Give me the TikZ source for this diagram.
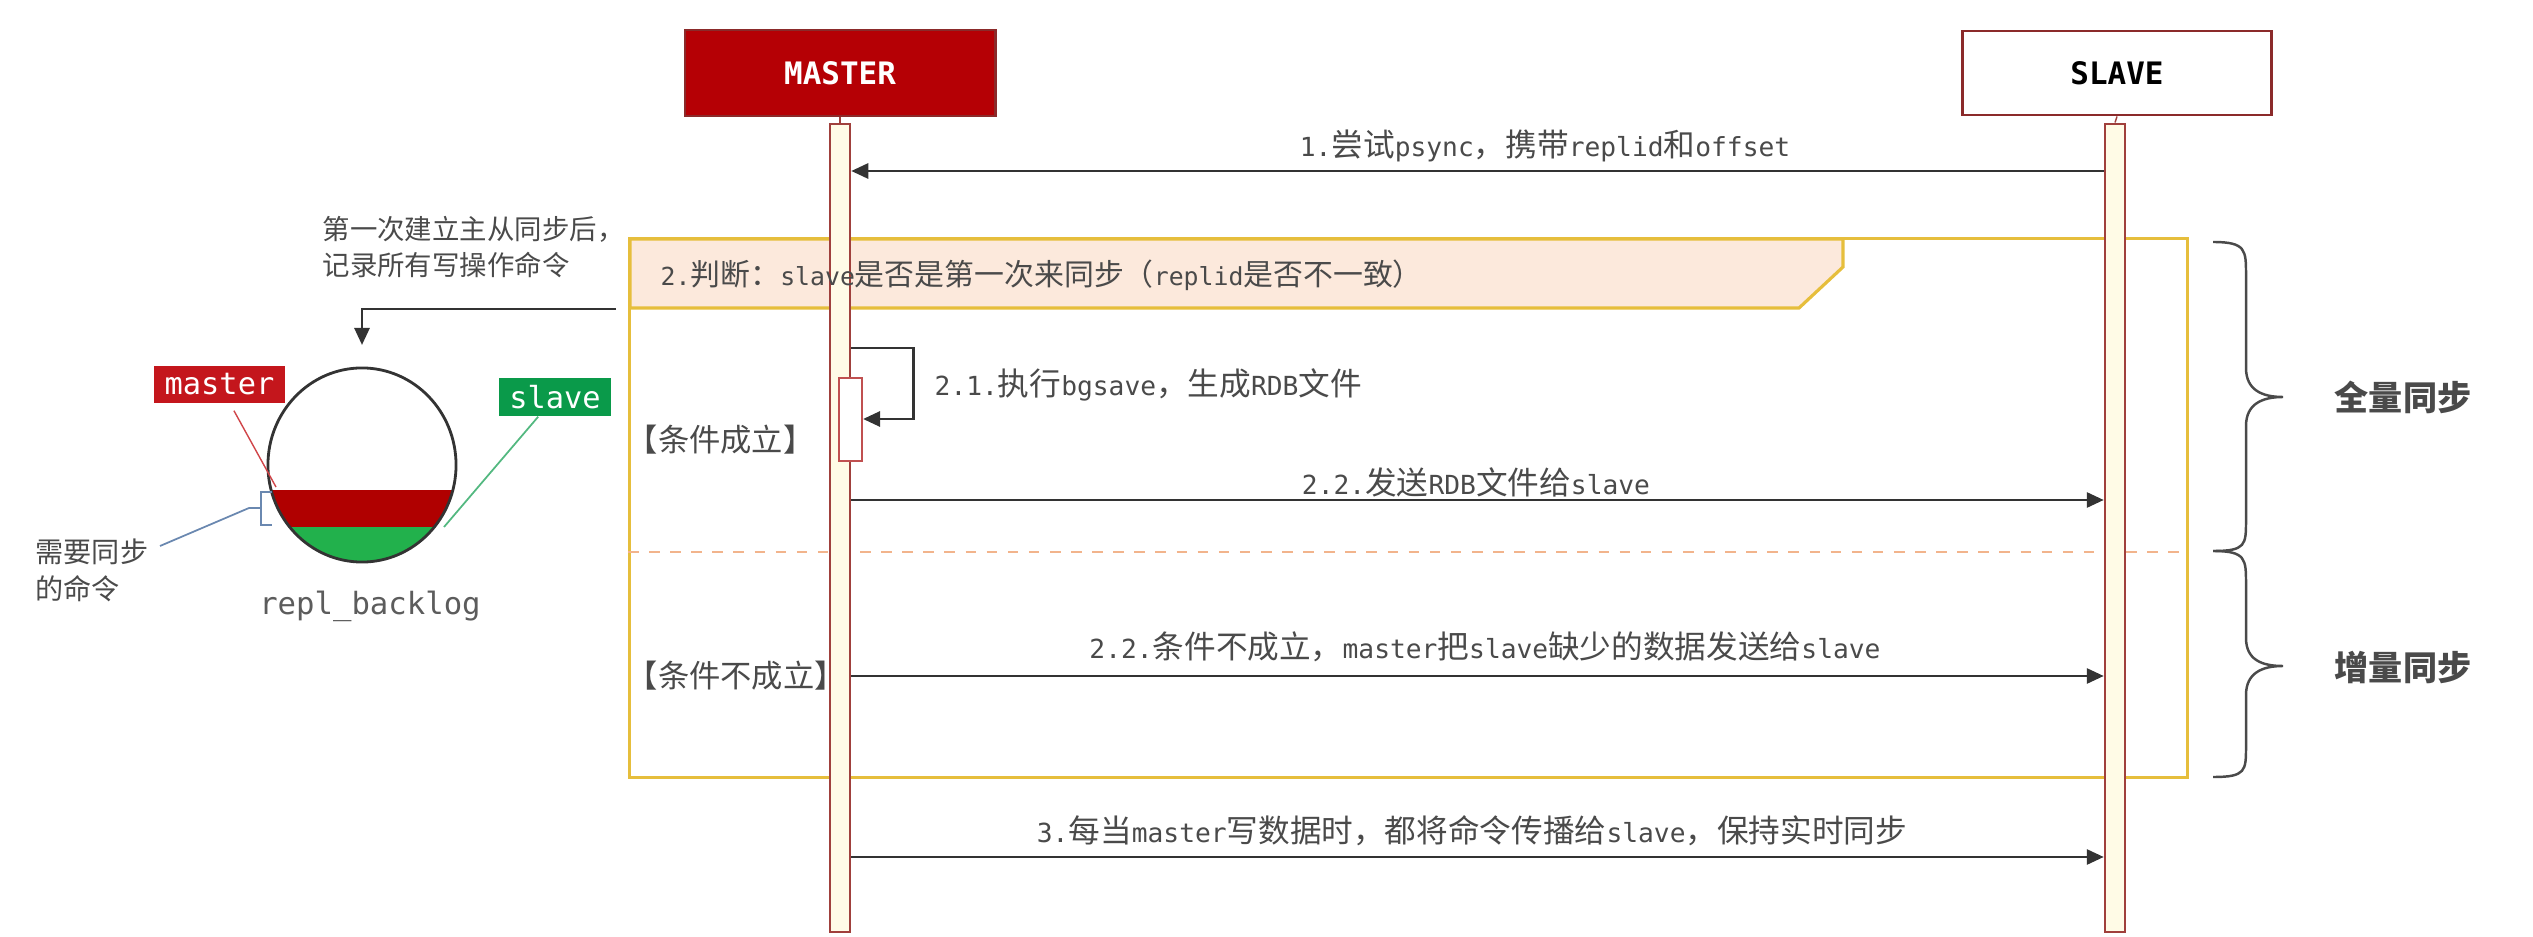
\documentclass[tikz,border=0pt]{standalone}
\usepackage{fontspec}
\setmainfont{DejaVu Sans Mono}[Scale=0.83]
\newfontfamily\cjk{Noto Sans CJK SC}
% Chinese characters switch to the CJK font by themselves
\XeTeXinterchartokenstate=1
\newXeTeXintercharclass\cjkclass
\newcount\cjkcode
\cjkcode="3000 \loop\XeTeXcharclass\cjkcode=\cjkclass \advance\cjkcode by 1 \ifnum\cjkcode<"3040 \repeat
\cjkcode="4E00 \loop\XeTeXcharclass\cjkcode=\cjkclass \advance\cjkcode by 1 \ifnum\cjkcode<"A000 \repeat
\cjkcode="FF00 \loop\XeTeXcharclass\cjkcode=\cjkclass \advance\cjkcode by 1 \ifnum\cjkcode<"FF60 \repeat
\XeTeXinterchartoks 0 \cjkclass = {\begingroup\cjk}
\XeTeXinterchartoks 4095 \cjkclass = {\begingroup\cjk}
\XeTeXinterchartoks \cjkclass 0 = {\endgroup}
\XeTeXinterchartoks \cjkclass 4095 = {\endgroup}
\usetikzlibrary{arrows.meta}
\definecolor{mred}{HTML}{B50005}
\definecolor{boxred}{HTML}{8B2A2A}
\definecolor{lifered}{HTML}{A0403C}
\definecolor{lifefill}{HTML}{FFFBE6}
\definecolor{actred}{HTML}{C05050}
\definecolor{frameyel}{HTML}{E6BE3C}
\definecolor{headfill}{HTML}{FCE9DC}
\definecolor{divcol}{HTML}{F2B48C}
\definecolor{txtgray}{HTML}{4A4A4A}
\definecolor{arrowgray}{HTML}{333333}
\definecolor{tagred}{HTML}{C4161C}
\definecolor{taggreen}{HTML}{0A9A4A}
\definecolor{bandred}{HTML}{B00000}
\definecolor{bandgreen}{HTML}{22B14C}
\definecolor{ptrblue}{HTML}{6A88B0}
\tikzset{
    head/.style={draw=boxred, line width=0.8pt, minimum width=3.1cm, minimum height=0.86cm, font=\fontsize{10.6}{12}\selectfont\bfseries}, % MASTER / SLAVE boxes
    lifeline/.style={draw=lifered, fill=lifefill, line width=0.7pt, minimum width=0.2cm, minimum height=8.08cm, inner sep=0pt},
    msg/.style={draw=arrowgray, line width=0.8pt, -{Triangle[length=0.17cm,width=0.15cm]}}, % messages
    lbl/.style={text=txtgray, font=\fontsize{9}{11}\selectfont, inner sep=0pt}, % message texts
    tag/.style={text=white, font=\fontsize{10.4}{12}\selectfont, inner sep=0pt},
    brace/.style={draw=txtgray, line width=0.7pt},
    big/.style={text=txtgray, font=\fontsize{9.7}{12}\selectfont\bfseries, inner sep=0pt},
}

\begin{document}
\begin{tikzpicture}[x=0.01cm, y=-0.01cm]
    \useasboundingbox (0,0) rectangle (2533,937);

    % heights of the messages
    \coordinate (y1) at (0,171);
    \coordinate (ya) at (0,348);
    \coordinate (yb) at (0,419);
    \coordinate (y2) at (0,500);
    \coordinate (ydiv) at (0,552);
    \coordinate (y3) at (0,676);
    \coordinate (y4) at (0,857);

    % alt frame with its header
    \node[draw=frameyel, line width=0.9pt, minimum width=15.57cm, minimum height=5.38cm, inner sep=0pt] (alt) at (1408.5,508) {};
    \draw[frameyel, fill=headfill, line width=0.9pt] (630,239) -- (1843,239) -- (1843,267) -- (1799,308) -- (630,308) -- cycle;
    \draw[divcol, dashed, line width=0.6pt] (alt.west |- ydiv) -- (alt.east |- ydiv);
    \node[lbl, font=\fontsize{8.9}{10}\selectfont, anchor=west] (yes) at (626,440) {【条件成立】};
    \node[lbl, font=\fontsize{8.9}{10}\selectfont, anchor=west] (no) at (626,676) {【条件不成立】};

    % participants
    \node[head, fill=mred, text=white] (master) at (840,73) {MASTER};
    \node[head, fill=white, text=black, minimum width=3.09cm, minimum height=0.84cm] (slave) at (2117,73) {SLAVE};
    \node[lifeline] (mline) at (840,528) {};
    \node[lifeline] (sline) at (2115,528) {};
    \draw[lifered, line width=0.4pt] (master.south) -- (mline.north);
    \draw[lifered, line width=0.4pt] (slave.south) -- (sline.north);
    \node[draw=actred, fill=white, line width=0.6pt, minimum width=0.23cm, minimum height=0.83cm, inner sep=0pt] (act) at (850.5,419.5) {};
    \node[lbl, font=\fontsize{8.5}{10}\selectfont, anchor=west] (cond) at (660,275) {2.判断：slave是否是第一次来同步（replid是否不一致）};

    % messages
    \draw[msg] (sline.west |- y1) -- (mline.east |- y1);
    \node[lbl] (l1) at (1545,146) {1.尝试psync，携带replid和offset};
    \draw[msg] (mline.east |- ya) -- ++(62,0) |- (act.east |- yb);
    \node[lbl, anchor=west] (l21) at (934,385) {2.1.执行bgsave，生成RDB文件};
    \draw[msg] (mline.east |- y2) -- (sline.west |- y2);
    \node[lbl] (l22) at (1476,482) {2.2.发送RDB文件给slave};
    \draw[msg] (mline.east |- y3) -- (sline.west |- y3);
    \node[lbl] (l23) at (1485,647) {2.2.条件不成立，master把slave缺少的数据发送给slave};
    \draw[msg] (mline.east |- y4) -- (sline.west |- y4);
    \node[lbl] (l3) at (1472,831) {3.每当master写数据时，都将命令传播给slave，保持实时同步};

    % braces on the right
    \draw[brace] (2213,242) .. controls (2246,242) and (2246,250) .. (2246,275) -- (2246,368) .. controls (2246,390) and (2262,397) .. (2283,397) .. controls (2262,397) and (2246,404) .. (2246,426) -- (2246,520) .. controls (2246,545) and (2246,551) .. (2213,551);
    \draw[brace] (2213,551) .. controls (2246,551) and (2246,559) .. (2246,584) -- (2246,638) .. controls (2246,660) and (2262,666) .. (2283,666) .. controls (2262,666) and (2246,673) .. (2246,695) -- (2246,746) .. controls (2246,771) and (2246,777) .. (2213,777);
    \node[big] (full) at (2403,397) {全量同步};
    \node[big] (part) at (2403,667) {增量同步};

    % repl_backlog on the left
    \node[lbl, font=\fontsize{7.8}{10}\selectfont, anchor=west, align=left] (memo) at (322,247) {第一次建立主从同步后，\\记录所有写操作命令};
    \begin{scope}
        \clip (362,465) ellipse [x radius=0.94cm, y radius=0.97cm];
        \fill[bandred] (250,490) rectangle (480,527);
        \fill[bandgreen] (250,527) rectangle (480,575);
    \end{scope}
    \draw[arrowgray, line width=0.8pt] (362,465) ellipse [x radius=0.94cm, y radius=0.97cm];
    \coordinate (log) at (362,368);
    \coordinate (memoend) at (616,309);
    \draw[msg, shorten >=0.23cm] (memoend) -| (log);
    \node[tag, fill=tagred, minimum width=1.31cm, minimum height=0.37cm] (mtag) at (219.5,384.5) {master};
    \node[tag, fill=taggreen, minimum width=1.12cm, minimum height=0.38cm] (stag) at (555,397) {slave};
    \coordinate (mband) at (276,487);
    \coordinate (sband) at (444,527);
    \draw[tagred!80, line width=0.4pt, shorten <=0.08cm] (mtag) -- (mband);
    \draw[taggreen!70, line width=0.5pt] (stag) -- (sband);
    \node[lbl, font=\fontsize{10.5}{12}\selectfont, text=txtgray!90] (logname) at (370,606) {repl\_backlog};
    \node[lbl, font=\fontsize{8}{10.5}\selectfont, anchor=west, align=left] (need) at (35,570) {需要同步\\的命令};
    \coordinate (needend) at (160,546);
    \draw[ptrblue, line width=0.5pt] (272,492) -- (261,492) -- (261,525) -- (272,525);
    \draw[ptrblue, line width=0.5pt] (needend) -- (249,508) -- (261,508);
\end{tikzpicture}
\end{document}
